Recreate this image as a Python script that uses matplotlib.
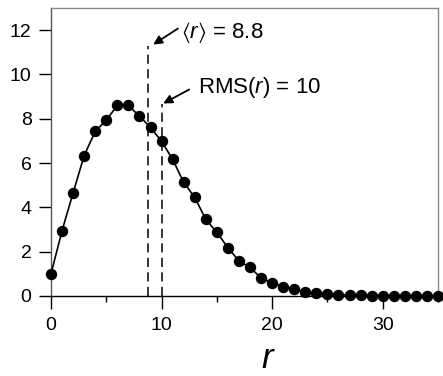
import numpy as np
import matplotlib
matplotlib.use("Agg")
import matplotlib.pyplot as plt
from matplotlib.ticker import MultipleLocator

plt.rcParams["font.family"] = ["Liberation Sans", "DejaVu Sans"]
plt.rcParams["mathtext.fontset"] = "custom"
plt.rcParams["mathtext.rm"] = "Liberation Sans"
plt.rcParams["mathtext.it"] = "Liberation Sans:italic"
plt.rcParams["mathtext.fallback"] = "stixsans"

# radial distribution values
r = np.arange(0, 36)
p = [1.0, 2.95, 4.66, 6.34, 7.43, 7.94, 8.6, 8.6, 8.12, 7.61,
     6.98, 6.17, 5.13, 4.45, 3.46, 2.87, 2.18, 1.58, 1.29, 0.81,
     0.6, 0.42, 0.32, 0.18, 0.13, 0.1, 0.06, 0.04, 0.03, 0.02,
     0.01, 0.01, 0.0, 0.0, 0.0, 0.0]

r_mean = 8.8
r_rms = 10
mean_line_top = 11.3
rms_line_top = 8.65

fig = plt.figure(figsize=(4.43, 3.76), dpi=100)
ax = fig.add_axes([51 / 443, 1 - 296 / 376, 387 / 443, 288 / 376])

ax.plot(r, p, color="black", lw=1.2, marker="o", ms=7.2,
        markerfacecolor="black", markeredgecolor="black", clip_on=False, zorder=3)

ax.plot([r_mean, r_mean], [0, mean_line_top], color="black", lw=1.1,
        dashes=(6, 3.5), zorder=2)
ax.plot([r_rms, r_rms], [0, rms_line_top], color="black", lw=1.1,
        dashes=(6, 3.5), zorder=2)

arrow = dict(arrowstyle="-|>", color="black", lw=1.3, mutation_scale=13,
             shrinkA=0, shrinkB=0)
ax.annotate("", xy=(9.24, 11.35), xytext=(11.47, 12.07), arrowprops=arrow)
ax.annotate("", xy=(10.15, 8.69), xytext=(12.5, 9.32), arrowprops=arrow)

ax.text(11.8, 11.65, r"$\langle r\rangle$ = %.1f" % r_mean, fontsize=16,
        ha="left", va="baseline")
ax.text(13.25, 9.17, r"RMS($r$) = %d" % r_rms, fontsize=16,
        ha="left", va="baseline")

ax.set_xlim(0, 35)
ax.set_ylim(0, 13)
ax.xaxis.set_major_locator(MultipleLocator(10))
ax.xaxis.set_minor_locator(MultipleLocator(5))
ax.yaxis.set_major_locator(MultipleLocator(2))

ax.tick_params(axis="both", which="major", direction="out", length=9,
               width=1.0, labelsize=14, color="black")
ax.tick_params(axis="x", which="major", pad=6)
ax.tick_params(axis="y", which="major", pad=5)
ax.tick_params(axis="x", which="minor", direction="out", length=4.5, width=1.0)

ax.spines["top"].set_color("#888888")
ax.spines["right"].set_color("#888888")
ax.spines["left"].set_color("#555555")
ax.spines["bottom"].set_color("black")
for s in ax.spines.values():
    s.set_linewidth(1.0)

fig.text(267 / 443, 0.002, "r", fontsize=25, style="italic",
         ha="center", va="bottom")

fig.savefig("out.png", dpi=100)
